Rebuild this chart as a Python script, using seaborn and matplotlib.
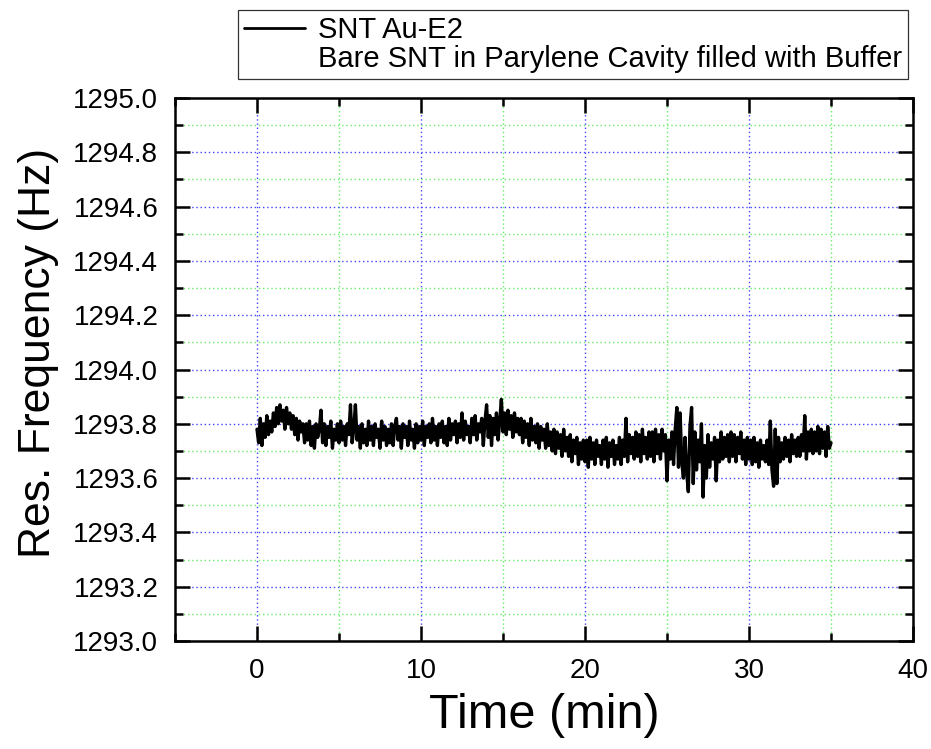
import numpy as np
import pandas as pd
import matplotlib
matplotlib.use("Agg")
import matplotlib.pyplot as plt
from matplotlib.lines import Line2D
from matplotlib.ticker import MultipleLocator, FormatStrFormatter
import seaborn as sns

# ---------------- data ----------------
sample_step_min = 0.1  # one reading every 0.1 min, t = 0 ... 35 min
freq_hz = [
    # 0 min
    1293.78, 1293.73, 1293.82, 1293.72, 1293.80, 1293.75, 1293.83, 1293.76, 1293.81, 1293.77,
    # 1
    1293.84, 1293.79, 1293.86, 1293.80, 1293.87, 1293.81, 1293.85, 1293.78, 1293.86, 1293.80,
    # 2
    1293.84, 1293.78, 1293.83, 1293.76, 1293.82, 1293.74, 1293.81, 1293.77, 1293.80, 1293.73,
    # 3
    1293.80, 1293.74, 1293.81, 1293.72, 1293.79, 1293.71, 1293.80, 1293.75, 1293.78, 1293.85,
    # 4
    1293.73, 1293.80, 1293.72, 1293.79, 1293.75, 1293.81, 1293.71, 1293.78, 1293.74, 1293.80,
    # 5
    1293.73, 1293.81, 1293.74, 1293.79, 1293.72, 1293.80, 1293.76, 1293.87, 1293.73, 1293.78,
    # 6
    1293.87, 1293.74, 1293.79, 1293.71, 1293.80, 1293.73, 1293.78, 1293.72, 1293.81, 1293.74,
    # 7
    1293.79, 1293.72, 1293.80, 1293.75, 1293.78, 1293.71, 1293.81, 1293.74, 1293.79, 1293.72,
    # 8
    1293.78, 1293.73, 1293.80, 1293.72, 1293.79, 1293.82, 1293.74, 1293.79, 1293.71, 1293.80,
    # 9
    1293.75, 1293.79, 1293.72, 1293.81, 1293.74, 1293.78, 1293.71, 1293.80, 1293.73, 1293.79,
    # 10
    1293.74, 1293.81, 1293.72, 1293.79, 1293.75, 1293.80, 1293.73, 1293.82, 1293.74, 1293.79,
    # 11
    1293.72, 1293.80, 1293.75, 1293.81, 1293.73, 1293.79, 1293.72, 1293.82, 1293.74, 1293.80,
    # 12
    1293.76, 1293.81, 1293.73, 1293.80, 1293.75, 1293.84, 1293.74, 1293.81, 1293.76, 1293.79,
    # 13
    1293.73, 1293.82, 1293.76, 1293.83, 1293.74, 1293.80, 1293.77, 1293.82, 1293.72, 1293.81,
    # 14
    1293.87, 1293.75, 1293.83, 1293.72, 1293.82, 1293.76, 1293.84, 1293.74, 1293.81, 1293.89,
    # 15
    1293.77, 1293.84, 1293.76, 1293.85, 1293.78, 1293.83, 1293.75, 1293.84, 1293.77, 1293.82,
    # 16
    1293.76, 1293.82, 1293.73, 1293.81, 1293.75, 1293.80, 1293.72, 1293.82, 1293.74, 1293.79,
    # 17
    1293.73, 1293.80, 1293.71, 1293.79, 1293.74, 1293.78, 1293.71, 1293.80, 1293.72, 1293.77,
    # 18
    1293.70, 1293.78, 1293.69, 1293.77, 1293.71, 1293.76, 1293.68, 1293.78, 1293.70, 1293.75,
    # 19
    1293.68, 1293.76, 1293.66, 1293.74, 1293.69, 1293.75, 1293.65, 1293.73, 1293.67, 1293.74,
    # 20
    1293.66, 1293.74, 1293.64, 1293.75, 1293.67, 1293.73, 1293.65, 1293.74, 1293.68, 1293.72,
    # 21
    1293.65, 1293.74, 1293.67, 1293.75, 1293.64, 1293.73, 1293.68, 1293.74, 1293.65, 1293.72,
    # 22
    1293.67, 1293.75, 1293.65, 1293.74, 1293.68, 1293.82, 1293.66, 1293.76, 1293.69, 1293.75,
    # 23
    1293.67, 1293.77, 1293.68, 1293.76, 1293.66, 1293.78, 1293.69, 1293.75, 1293.67, 1293.77,
    # 24
    1293.68, 1293.77, 1293.66, 1293.78, 1293.69, 1293.76, 1293.67, 1293.78, 1293.70, 1293.76,
    # 25
    1293.59, 1293.74, 1293.67, 1293.77, 1293.65, 1293.78, 1293.86, 1293.64, 1293.84, 1293.66,
    # 26
    1293.60, 1293.75, 1293.62, 1293.55, 1293.79, 1293.86, 1293.58, 1293.77, 1293.63, 1293.74,
    # 27
    1293.66, 1293.80, 1293.53, 1293.72, 1293.60, 1293.76, 1293.64, 1293.73, 1293.67, 1293.75,
    # 28
    1293.59, 1293.74, 1293.66, 1293.77, 1293.67, 1293.75, 1293.68, 1293.76, 1293.66, 1293.77,
    # 29
    1293.68, 1293.76, 1293.66, 1293.75, 1293.69, 1293.77, 1293.67, 1293.74, 1293.65, 1293.75,
    # 30
    1293.67, 1293.74, 1293.65, 1293.75, 1293.66, 1293.73, 1293.64, 1293.74, 1293.67, 1293.72,
    # 31
    1293.66, 1293.74, 1293.65, 1293.81, 1293.63, 1293.57, 1293.78, 1293.58, 1293.75, 1293.66,
    # 32
    1293.73, 1293.67, 1293.75, 1293.68, 1293.74, 1293.66, 1293.76, 1293.69, 1293.74, 1293.68,
    # 33
    1293.75, 1293.68, 1293.76, 1293.70, 1293.83, 1293.67, 1293.77, 1293.70, 1293.78, 1293.69,
    # 34
    1293.77, 1293.70, 1293.79, 1293.69, 1293.78, 1293.71, 1293.77, 1293.68, 1293.79, 1293.71,
    # 35
    1293.73,
]
time_min = np.round(np.arange(len(freq_hz)) * sample_step_min, 1)

series_label = "SNT Au-E2"
note_label = "Bare SNT in Parylene Cavity filled with Buffer"
x_label = "Time (min)"
y_label = "Res. Frequency (Hz)"
x_ticks = [0, 10, 20, 30, 40]
y_ticks = [1293.0, 1293.2, 1293.4, 1293.6, 1293.8, 1294.0, 1294.2, 1294.4, 1294.6, 1294.8, 1295.0]

df = pd.DataFrame({"t": time_min, "f": freq_hz})

# ---------------- style ----------------
sns.set_theme(style="white")
plt.rcParams["font.family"] = ["Liberation Sans", "DejaVu Sans"]
plt.rcParams["text.color"] = "black"
plt.rcParams["axes.labelcolor"] = "black"
plt.rcParams["xtick.color"] = "black"
plt.rcParams["ytick.color"] = "black"

fig = plt.figure(figsize=(9.31, 7.49), dpi=100)
ax = fig.add_axes([175 / 931, 1 - 641 / 749, (913 - 175) / 931, (641 - 98) / 749])

sns.lineplot(data=df, x="t", y="f", ax=ax, color="black", linewidth=2.4,
             estimator=None, sort=False, legend=False)

ax.set_xlim(-5, 40)
ax.set_ylim(1293.0, 1295.0)
ax.set_xticks(x_ticks)
ax.set_yticks(y_ticks)
ax.xaxis.set_minor_locator(MultipleLocator(5))
ax.yaxis.set_minor_locator(MultipleLocator(0.1))
ax.yaxis.set_major_formatter(FormatStrFormatter("%.1f"))

ax.grid(which="major", color="#4444ff", linestyle=(0, (1, 2)), linewidth=1.0)
ax.grid(which="minor", color="#66ee66", linestyle=(0, (1, 2)), linewidth=1.0)
ax.set_axisbelow(True)

for s in ax.spines.values():
    s.set_visible(True)
    s.set_color("black")
    s.set_linewidth(1.8)

ax.tick_params(which="both", direction="in", top=True, right=True,
               bottom=True, left=True, color="black", width=1.8)
ax.tick_params(which="major", length=11, labelsize=20, pad=12, labelcolor="black")
ax.tick_params(which="minor", length=6)

ax.set_xlabel(x_label, fontsize=35, labelpad=7, color="black")
ax.set_ylabel(y_label, fontsize=32, color="black")
ax.yaxis.set_label_coords(-0.157, 0.53)

handles = [Line2D([], [], color="black", linewidth=2.0),
           Line2D([], [], color="none")]
leg = fig.legend(handles, [series_label, note_label],
                 loc="upper left", bbox_to_anchor=(238 / 931, 1 - 10 / 749),
                 frameon=True, fancybox=False, fontsize=21,
                 handlelength=2.1, handletextpad=0.45, borderpad=0.2,
                 labelspacing=0.05, borderaxespad=0)
leg.get_frame().set_edgecolor("black")
leg.get_frame().set_linewidth(0.9)
for txt in leg.get_texts():
    txt.set_color("black")

fig.savefig("out.png", dpi=100)
